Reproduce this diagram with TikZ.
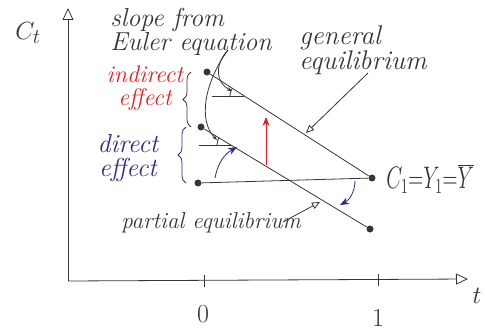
\documentclass[tikz,border=0pt]{standalone}
\usepackage{fontspec}
\usepackage{graphicx}
\usepackage{xcolor}
\usepackage{tikz}
\usetikzlibrary{positioning, arrows.meta, calc, decorations.pathreplacing}
\definecolor{pencil}{HTML}{3A3530}
\definecolor{inkred}{HTML}{E0201B}
\definecolor{inkblue}{HTML}{2A2A8C}

\begin{document}
\begin{tikzpicture}[x=1pt, y=1pt, line width=0.8pt, pencil]
        \tikzstyle{dot} = [circle, fill=pencil, inner sep=0pt, minimum size=7pt]
        \tikzstyle{hand} = [align=left, inner sep=0pt]
        \tikzstyle{axis} = [-{Triangle[open, length=12pt, width=11pt]}]
        \tikzstyle{pointer} = [-{Triangle[open, length=8pt, width=7pt]}]
        \tikzstyle{brc} = [decorate, decoration={brace, amplitude=8pt}]

        \useasboundingbox (0,0) rectangle (485,333);

        % axes
        \coordinate (origin) at (68,52);
        \coordinate (ytop) at (68,325);
        \coordinate (xend) at (468,54);
        \draw [axis] (origin) -- (ytop);
        \draw [axis] (origin) -- (xend);
        \node [font=\fontsize{30}{30}\selectfont] (ylab) at (28,300) {$C_t$};
        \node [font=\fontsize{30}{30}\selectfont] (xlab) at (477,37) {$t$};
        \draw (204,46) -- (204,58);
        \draw (378,47) -- (378,59);
        \node [font=\fontsize{26}{26}\selectfont] (tzero) at (203,19) {0};
        \node [font=\fontsize{26}{26}\selectfont] (tone) at (378,15) {1};

        % points
        \node [dot] (ptop) at (207,261) {};
        \node [dot] (pmid) at (201,206) {};
        \node [dot] (pbot) at (198,150) {};
        \node [dot] (cone) at (372,155) {};
        \node [dot] (pend) at (370,104) {};

        % consumption paths
        \draw (ptop) -- (cone);
        \draw (pmid) -- (pend);
        \draw (pbot) -- (cone);

        % slopes
        \coordinate (ang1) at (244,237);
        \coordinate (ang2) at (231,188);
        \draw (212,237) -- (ang1);
        \draw ($(ang1)+(147:14)$) arc [start angle=147, end angle=180, radius=14];
        \draw (199,188) -- (ang2);
        \draw ($(ang2)+(149:14)$) arc [start angle=149, end angle=180, radius=14];

        % labels
        \node [hand, font=\fontsize{26}{23}\selectfont\itshape] (euler) at (191,301) {slope from\\Euler equation};
        \node [hand, font=\fontsize{27}{24}\selectfont\itshape] (general) at (363,283) {general\\equilibrium};
        \node [hand, font=\fontsize{23}{23}\selectfont\itshape] (partial) at (211,110) {partial equilibrium};
        \node [hand, font=\fontsize{24}{23}\selectfont\itshape, text=inkred, align=center] (indirect) at (145,245) {indirect\\effect};
        \node [hand, font=\fontsize{26}{24}\selectfont\itshape, text=inkblue, align=center] (direct) at (128,175) {direct\\effect};
        \node [anchor=west, inner sep=0pt, font=\fontsize{22}{22}\selectfont] (cylab) at (386,154) {\scalebox{1}[1.5]{$C_1{=}Y_1{=}\overline{Y}$}};

        % braces
        \draw [brc] (191,206) -- (191,261);
        \draw [brc, inkblue] (186,150) -- (186,206);

        % pointers
        \coordinate (eulerfoot) at (228,283);
        \draw [-{Stealth[length=5pt]}] (eulerfoot) .. controls (214,268) and (216,250) .. ($(ang1)+(-12,5)$);
        \draw [-{Stealth[length=5pt]}] (eulerfoot) .. controls (204,250) and (198,212) .. ($(ang2)+(-14,5)$);
        \draw [pointer] (368,260) -- (306,200);
        \draw [pointer] (283,111) -- (320,131);

        % effects
        \draw [inkred, -{Stealth[length=9pt, width=7pt]}] (266,168) -- (266,216);
        \draw [inkblue, -{Stealth[length=9pt, width=7pt]}] (215,155) to [bend left=25] (237,186);
        \draw [inkblue, -{Stealth[length=9pt, width=7pt]}] (355,152) to [bend left=30] (340,128);
    \end{tikzpicture}
\end{document}
